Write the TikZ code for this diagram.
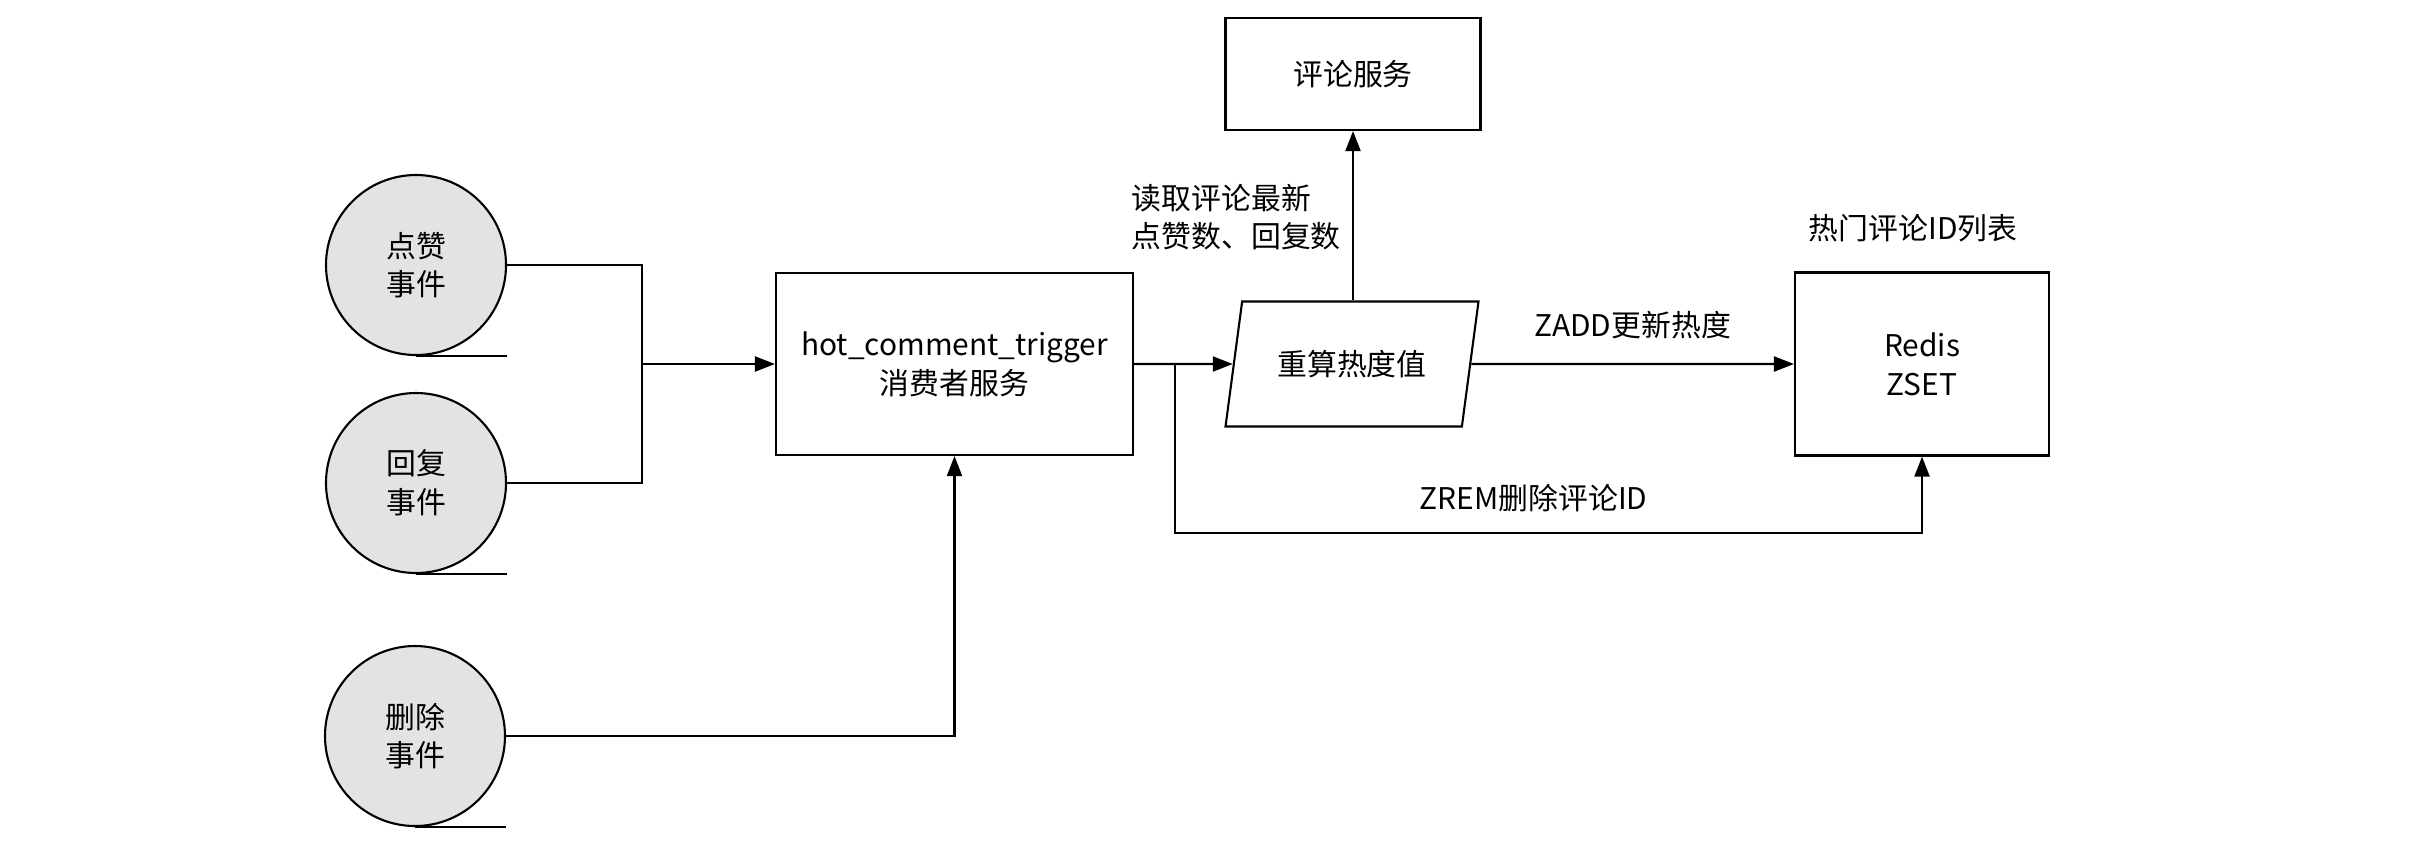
\documentclass[tikz,border=0pt]{standalone}
\usepackage{fontspec}
\setmainfont{Noto Sans CJK SC}
\usepackage{tikz}
\usetikzlibrary{arrows.meta, positioning, shapes.geometric, calc}

\begin{document}
\begin{tikzpicture}[
  every node/.style={font=\fontsize{8.5}{11}\selectfont},
  line/.style={line width=0.6pt},
  arrow/.style={line, -{Triangle[length=2mm, width=1.5mm]}},
  event/.style={circle, draw, line width=0.6pt, fill=gray!22, minimum size=1.8cm, inner sep=0pt, align=center},
  box/.style={rectangle, draw, line width=0.6pt, align=center},
  calcbox/.style={trapezium, draw, line width=0.6pt, trapezium left angle=72, trapezium right angle=108, trapezium stretches body, minimum width=2.53cm, minimum height=1.25cm, align=center},
]
  \useasboundingbox (0,0) rectangle (24.17,-8.42);

  % event sources
  \node[event] (like) at (4.16,-2.65) {点赞\\事件};
  \node[event] (reply) at (4.16,-4.83) {回复\\事件};
  \node[event] (del) at (4.15,-7.36) {删除\\事件};
  \draw[line] (like.south) -- (like.south -| like.east);
  \draw[line] (reply.south) -- (reply.south -| reply.east);
  \draw[line] (del.south) -- (del.south -| del.east);

  \node[box, minimum width=3.57cm, minimum height=1.82cm] (hot) at (9.545,-3.64) {hot\_comment\_trigger\\消费者服务};
  \node[calcbox] (calc) at (13.52,-3.64) {重算热度值};
  \node[box, minimum width=2.55cm, minimum height=1.12cm] (svc) at (13.53,-0.74) {评论服务};
  \node[box, minimum width=2.54cm, minimum height=1.83cm] (redis) at (19.22,-3.64) {Redis\\ZSET};

  \node (hotlist) at (19.13,-2.28) {热门评论ID列表};
  \node[anchor=west, inner sep=0pt, align=left] (readlbl) at (11.31,-2.17) {读取评论最新\\点赞数、回复数};

  \coordinate (jn) at (6.42,-3.64);
  \draw[line] (like.east) -| (jn);
  \draw[line] (reply.east) -| (jn);
  \draw[arrow] (jn) -- (hot.west);
  \draw[arrow] (del.east) -| (hot.south);

  \draw[arrow] (hot.east) -- (calc.west);
  \draw[arrow] (calc.north -| svc.south) -- (svc.south);
  \draw[arrow] (calc.east) -- node[above=0.12cm] (zaddlbl) {ZADD更新热度} (redis.west);

  \coordinate (br) at (11.75,-3.64);
  \coordinate (zr) at (11.75,-5.33);
  \draw[arrow] (br) -- (zr) -| node[pos=0.24, above=0.08cm] (zremlbl) {ZREM删除评论ID} (redis.south);
\end{tikzpicture}
\end{document}
